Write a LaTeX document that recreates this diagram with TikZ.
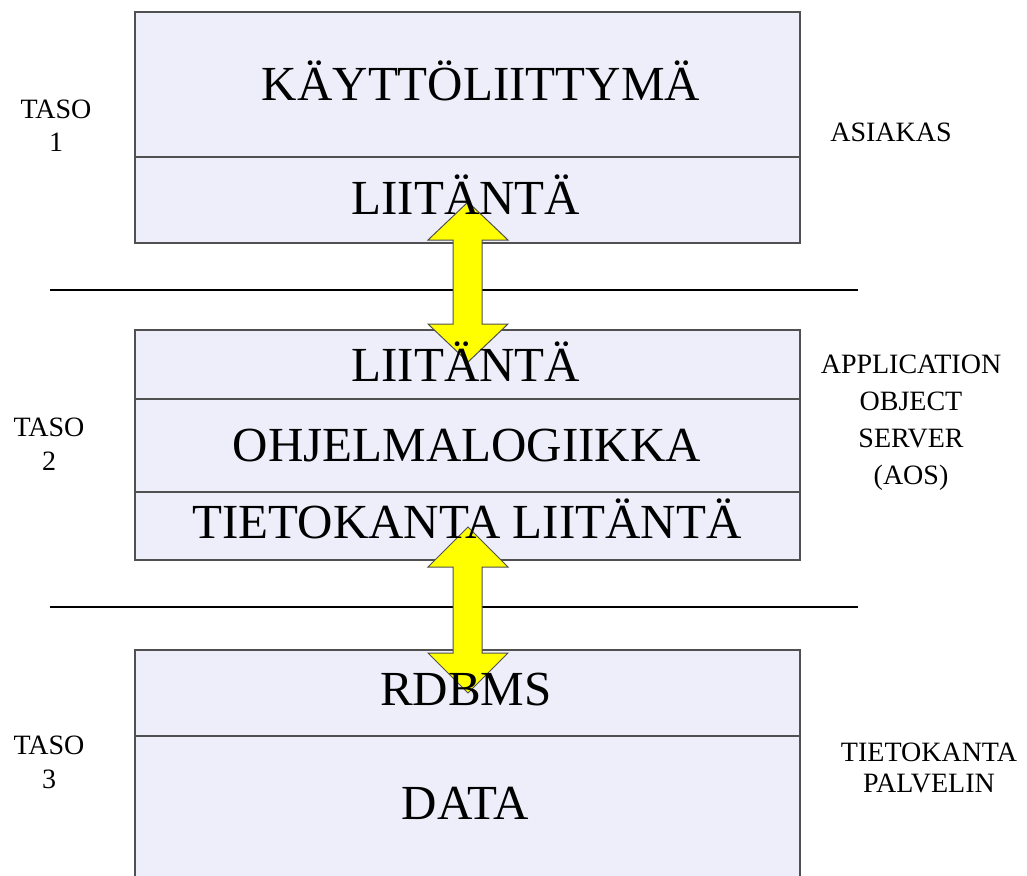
\documentclass[tikz,border=0pt]{standalone}
\usepackage{fontspec}
\setmainfont{Liberation Serif}
\definecolor{boxfill}{HTML}{EEEEFB}
\definecolor{boxline}{HTML}{505050}
\definecolor{arrowfill}{HTML}{FFFF00}
\tikzset{
  layerbox/.style={fill=boxfill, draw=boxline, line width=1.5pt},
  divider/.style={draw=boxline, line width=1.2pt},
  sepline/.style={draw=black, line width=1.3pt},
  bigtext/.style={anchor=base, inner sep=0pt, font=\fontsize{49}{58}\selectfont},
  sidetext/.style={inner sep=0pt, align=center, font=\fontsize{28}{34}\selectfont},
  dblarrow/.style={fill=arrowfill, draw=boxline, line width=1pt, line join=miter}
}
\begin{document}
\begin{tikzpicture}[x=1pt,y=-1pt]
\useasboundingbox (0,0) rectangle (1027,875);
\fill[white] (0,0) rectangle (1027,875);
\begin{scope}
\clip (0,0) rectangle (1027,875);
% Box 1
\draw[layerbox] (135,12) rectangle (800,243);
\draw[divider] (135,157) -- (800,157);
% Box 2
\draw[layerbox] (135,330) rectangle (800,560);
\draw[divider] (135,399) -- (800,399);
\draw[divider] (135,492) -- (800,492);
% Box 3 (open at bottom)
\fill[boxfill] (135,650) rectangle (800,880);
\draw[boxline, line width=1.5pt] (135,880) -- (135,650) -- (800,650) -- (800,880);
\draw[divider] (135,736) -- (800,736);
\end{scope}
% separator lines
\coordinate (s1a) at (50,290); \coordinate (s1b) at (858,290);
\coordinate (s2a) at (50,607); \coordinate (s2b) at (858,607);
\draw[sepline] (s1a) -- (s1b);
\draw[sepline] (s2a) -- (s2b);
% double arrows
\draw[dblarrow] (468,202) -- (508,240) -- (482,240) -- (482,324) -- (508,324) -- (468,362)
  -- (428,324) -- (453,324) -- (453,240) -- (428,240) -- cycle;
\draw[dblarrow] (468,527) -- (508,567) -- (482,567) -- (482,653) -- (508,653) -- (468,693)
  -- (428,653) -- (453,653) -- (453,567) -- (428,567) -- cycle;
% box texts
\node[bigtext] (ui) at (481,100) {KÄYTTÖLIITTYMÄ};
\node[bigtext] (li1) at (466,214) {LIITÄNTÄ};
\node[bigtext] (li2) at (466,381) {LIITÄNTÄ};
\node[bigtext] (logic) at (467,461) {OHJELMALOGIIKKA};
\node[bigtext] (dbli) at (467,538) {TIETOKANTA LIITÄNTÄ};
\node[bigtext] (rdbms) at (466,705) {RDBMS};
\node[bigtext] (data) at (465,819) {DATA};
% left labels
\node[sidetext, font=\fontsize{28}{33}\selectfont] (t1) at (56,126) {TASO\\1};
\node[sidetext, font=\fontsize{28}{34}\selectfont] (t2) at (49,444) {TASO\\2};
\node[sidetext, font=\fontsize{28}{34}\selectfont] (t3) at (49,762) {TASO\\3};
% right labels
\node[sidetext] (asiakas) at (891,132) {ASIAKAS};
\node[sidetext, font=\fontsize{28}{37}\selectfont] (aos) at (911,423) {APPLICATION\\OBJECT\\SERVER\\(AOS)};
\node[sidetext, font=\fontsize{28}{31}\selectfont] (tkp) at (929,768) {TIETOKANTA\\PALVELIN};
\end{tikzpicture}
\end{document}
